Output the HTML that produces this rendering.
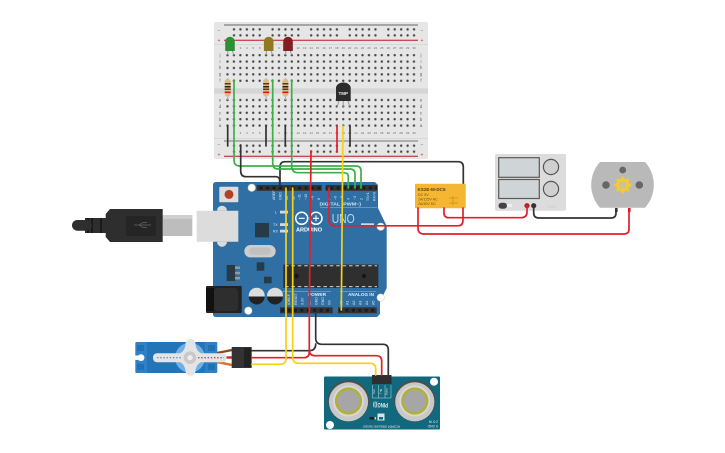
<!DOCTYPE html>
<html><head><meta charset="utf-8"><style>
html,body{margin:0;padding:0;background:#fff}
svg{display:block;font-family:"Liberation Sans",sans-serif}
.w{fill:none;stroke-width:1.7;stroke-linecap:round;stroke-linejoin:round}
.r{stroke:#e0202b}.y{stroke:#f4d215}.g{stroke:#3fae49}.k{stroke:#333}
.n text{font-size:3px;fill:#666;text-anchor:middle}
</style></head><body>
<svg width="725" height="453" viewBox="0 0 725 453" xmlns="http://www.w3.org/2000/svg">
<defs>
<pattern id="h" patternUnits="userSpaceOnUse" x="224.285" y="52" width="6.43" height="6.4"><circle cx="3.215" cy="3.2" r="1.2" fill="#444"/></pattern>
<pattern id="rail" patternUnits="userSpaceOnUse" x="230.8" y="26" width="38.58" height="12"><g fill="#444"><circle cx="3.2" cy="3" r="1.2"/><circle cx="9.63" cy="3" r="1.2"/><circle cx="16.06" cy="3" r="1.2"/><circle cx="22.49" cy="3" r="1.2"/><circle cx="28.92" cy="3" r="1.2"/><circle cx="3.2" cy="9" r="1.2"/><circle cx="9.63" cy="9" r="1.2"/><circle cx="16.06" cy="9" r="1.2"/><circle cx="22.49" cy="9" r="1.2"/><circle cx="28.92" cy="9" r="1.2"/></g></pattern>
<pattern id="pin" patternUnits="userSpaceOnUse" x="0.7" y="185" width="6.43" height="6"><rect x="1.7" y="1.5" width="3" height="3" fill="#1c1c1c"/></pattern>
<g id="nums" class="n"><text x="227.5">1</text><text x="233.9">2</text><text x="240.4">3</text><text x="246.8">4</text><text x="253.2">5</text><text x="259.7">6</text><text x="266.1">7</text><text x="272.5">8</text><text x="279">9</text><text x="285.4">10</text><text x="291.8">11</text><text x="298.2">12</text><text x="304.7">13</text><text x="311.1">14</text><text x="317.5">15</text><text x="324">16</text><text x="330.4">17</text><text x="336.8">18</text><text x="343.2">19</text><text x="349.7">20</text><text x="356.1">21</text><text x="362.5">22</text><text x="369">23</text><text x="375.4">24</text><text x="381.8">25</text><text x="388.3">26</text><text x="394.7">27</text><text x="401.1">28</text><text x="407.6">29</text><text x="414">30</text></g>
</defs>

<!-- breadboard -->
<rect x="214" y="22" width="214" height="137" rx="2" fill="#e6e6e6"/>
<rect x="214" y="88.3" width="214" height="5.4" fill="#d6d6d6"/>
<rect x="214" y="44" width="214" height="1" fill="#d8d8d8"/>
<rect x="214" y="138" width="214" height="1" fill="#d8d8d8"/>
<rect x="224" y="24.5" width="194" height="1" fill="#666"/>
<rect x="224" y="39.7" width="194" height="1.2" fill="#c23c40"/>
<rect x="224" y="140.4" width="194" height="1.2" fill="#888"/>
<rect x="224" y="155.7" width="194" height="1.2" fill="#c23c40"/>
<rect x="230.8" y="26" width="186" height="12" fill="url(#rail)" transform="translate(0,0.4)"/>
<rect x="230.8" y="26" width="186" height="12" fill="url(#rail)" transform="translate(0,116.7)"/>
<rect x="224.3" y="52" width="192.9" height="32" fill="url(#h)"/>
<rect x="224.3" y="96.8" width="192.9" height="32" fill="url(#h)"/>
<use href="#nums" y="49"/>
<use href="#nums" y="134"/>
<g font-size="5" fill="#666" text-anchor="middle">
<text x="219" y="32">−</text><text x="422" y="32">−</text><text x="219" y="42" fill="#c33">+</text><text x="422" y="42" fill="#c33">+</text>
<text x="219" y="146">−</text><text x="422" y="146">−</text><text x="219" y="156.5" fill="#c33">+</text><text x="422" y="156.5" fill="#c33">+</text>
<g font-size="4.5"><text x="220" y="56.5">j</text><text x="220" y="62.8">i</text><text x="220" y="69">h</text><text x="220" y="75.5">g</text><text x="220" y="82">f</text>
<text x="220" y="101.5">e</text><text x="220" y="108">d</text><text x="220" y="114.5">c</text><text x="220" y="120.8">b</text><text x="220" y="127.2">a</text>
<text x="421" y="56.5">j</text><text x="421" y="62.8">i</text><text x="421" y="69">h</text><text x="421" y="75.5">g</text><text x="421" y="82">f</text>
<text x="421" y="101.5">e</text><text x="421" y="108">d</text><text x="421" y="114.5">c</text><text x="421" y="120.8">b</text><text x="421" y="127.2">a</text></g>
</g>

<!-- short jumpers -->
<g class="w k"><path d="M227.7 126V146M266 126V146M285.3 126V146M350 126V146"/></g>
<path class="w r" d="M337 126V152"/>

<!-- LEDs -->
<g stroke="#999" stroke-width="1" fill="none"><path d="M228 50L227.5 55M232 50L233.9 55M266.5 50L266.1 55M271 50L272.5 55M286 50L285.4 55M290 50L291.8 55"/></g>
<path d="M225.2 51V41.5a4.8 4.8 0 0 1 9.6 0V51z" fill="#2a9235"/>
<path d="M263.9 51V41.5a4.8 4.8 0 0 1 9.6 0V51z" fill="#8f7a20"/>
<path d="M283.2 51V41.5a4.8 4.8 0 0 1 9.6 0V51z" fill="#831f22"/>

<!-- resistors -->
<g id="res"><path d="M227.7 78V100" stroke="#aaa" stroke-width="1"/><rect x="224.7" y="79" width="6" height="17.5" rx="2.5" fill="#dcbc84"/><rect x="224.7" y="83" width="6" height="1.5" fill="#5a3a1c"/><rect x="224.7" y="86" width="6" height="1.5" fill="#222"/><rect x="224.7" y="88.5" width="6" height="1.5" fill="#5a3a1c"/><rect x="224.7" y="91.5" width="6" height="1.6" fill="#e8120f"/></g>
<use href="#res" x="38.4"/>
<use href="#res" x="57.7"/>

<!-- TMP -->
<g stroke="#999" stroke-width="1" fill="none"><path d="M339 101L337 107M343.2 101V107M348 101L350 107"/></g>
<path d="M336 101V88a7.3 5.5 0 0 1 14.7 0V101z" fill="#2c2c2c"/>
<text x="343.3" y="95" font-size="4.5" font-weight="bold" fill="#eee" text-anchor="middle">TMP</text>

<!-- Arduino -->
<path d="M216 182H375L378 185V208L386.7 226V288L380 302V314L377 317H216Q213 317 213 314V185Q213 182 216 182Z" fill="#2f6fa3"/>
<g fill="#fff" stroke="#e2d6a8" stroke-width="0.6"><circle cx="251.7" cy="187.7" r="3.7"/><circle cx="380.7" cy="226.7" r="3.7"/><circle cx="380.7" cy="297.6" r="3.7"/><circle cx="248.3" cy="310.7" r="3.7"/></g>
<rect x="219.3" y="186.7" width="19" height="15.6" rx="1" fill="#ddd"/><circle cx="229" cy="194.4" r="4.5" fill="#b5402a"/>
<rect x="256.7" y="185" width="65" height="5.8" fill="#333"/><rect x="256.7" y="185" width="65" height="5.8" fill="url(#pin)"/>
<rect x="325.7" y="185" width="51.3" height="5.8" fill="#333"/><rect x="325.7" y="185" width="51.3" height="5.8" fill="url(#pin)"/>
<rect x="280" y="307.3" width="52.7" height="6" fill="#333"/><rect x="338" y="307.3" width="38.7" height="6" fill="#333"/>
<path d="M281 310.3H332M339 310.3H376" stroke="#1c1c1c" stroke-width="3" stroke-dasharray="3 3.43"/>
<rect x="283.3" y="264.5" width="95" height="23.5" fill="#2f2f2f"/>
<path d="M285 265.8H377M285 286.7H377" stroke="#eee" stroke-width="0.8" stroke-dasharray="3.6 2.8"/>
<circle cx="296.5" cy="276" r="2.2" fill="#161616"/><circle cx="364" cy="276" r="2.2" fill="#161616"/>
<rect x="244.3" y="245" width="31.4" height="12.4" rx="6.2" fill="#cdcdcd"/><rect x="249" y="247.5" width="22" height="7.4" rx="3.7" fill="#c0c0c0"/>
<rect x="255" y="223" width="14" height="14.3" fill="#263a48"/>
<rect x="256.7" y="262.3" width="7.6" height="8.4" fill="#263a48"/>
<rect x="226.7" y="265" width="8.5" height="16" fill="#263a48"/><rect x="235" y="266.5" width="5" height="2.4" fill="#999"/><rect x="235" y="271.8" width="5" height="2.4" fill="#999"/><rect x="235" y="277" width="5" height="2.4" fill="#999"/>
<rect x="264" y="276.7" width="7.7" height="6.6" fill="#263a48"/>
<g fill="#d8d8d8"><rect x="280" y="210.7" width="8" height="2.8"/><rect x="280" y="223.2" width="8" height="2.8"/><rect x="280" y="229.7" width="8" height="2.8"/><rect x="361" y="223.3" width="13" height="2"/></g>
<path d="M320 207.5H377M282 291.5H331M340 291.5H376" stroke="#9fbdd6" stroke-width="0.5"/>
<g><circle cx="256.7" cy="295.7" r="8" fill="#ddd"/><path d="M248.7 296.5a8 8 0 0 0 16 0z" fill="#222"/><circle cx="275" cy="295.7" r="8" fill="#ddd"/><path d="M267 296.5a8 8 0 0 0 16 0z" fill="#222"/></g>
<rect x="206" y="286" width="35.7" height="27" rx="1" fill="#222"/><rect x="206" y="288" width="8" height="23" fill="#111"/><rect x="214" y="288" width="24" height="23" rx="3" fill="#2e2e2e"/>
<!-- USB port -->
<path d="M196.7 210.7H238.3V241.7H196.7z" fill="#dcdcdc"/><path d="M217 210.7a5 5 0 0 1 10 0zM217 241.7a5 5 0 0 0 10 0z" fill="#dcdcdc"/>
<!-- logo -->
<g fill="none" stroke="#fff" stroke-width="1.5"><circle cx="301.7" cy="218.3" r="6"/><circle cx="316" cy="218.3" r="6"/></g>
<path d="M298.7 218.3h6M313 218.3h6M316 215.3v6" stroke="#fff" stroke-width="1.1"/>
<text x="309" y="231.5" font-size="5.6" font-weight="bold" fill="#fff" text-anchor="middle">ARDUINO</text>
<text x="331.7" y="223" font-size="13" fill="#c2d6e6" textLength="23" lengthAdjust="spacingAndGlyphs">UNO</text>
<text x="319.5" y="205.6" font-size="4.4" font-weight="bold" fill="#d5e3ee" textLength="41.5" lengthAdjust="spacingAndGlyphs">DIGITAL (PWM~)</text>
<text x="317" y="295.8" font-size="4.8" font-weight="bold" fill="#e5eef5" text-anchor="middle">POWER</text>
<text x="361" y="295.8" font-size="4.6" font-weight="bold" fill="#e5eef5" text-anchor="middle">ANALOG IN</text>
<g font-size="3.6" fill="#dfe9f1">
<text transform="translate(275,200) rotate(-90)">AREF</text><text transform="translate(281.5,200) rotate(-90)">GND</text>
<text transform="translate(288,200) rotate(-90)">13</text><text transform="translate(294.3,200) rotate(-90)">12</text><text transform="translate(300.7,200) rotate(-90)">~11</text><text transform="translate(307.2,200) rotate(-90)">~10</text><text transform="translate(313.6,200) rotate(-90)">~9</text><text transform="translate(320,200) rotate(-90)">8</text>
<text transform="translate(330.3,200) rotate(-90)">7</text><text transform="translate(336.7,200) rotate(-90)">~6</text><text transform="translate(343,200) rotate(-90)">~5</text><text transform="translate(349.6,200) rotate(-90)">4</text><text transform="translate(356,200) rotate(-90)">~3</text><text transform="translate(362.4,200) rotate(-90)">2</text><text transform="translate(368.8,201) rotate(-90)">TX&gt;1</text><text transform="translate(375.3,201) rotate(-90)">RX&lt;0</text>
<text transform="translate(290,305) rotate(-90)">IOREF</text><text transform="translate(297,305) rotate(-90)">RESET</text><text transform="translate(303.5,305) rotate(-90)">3.3V</text><text transform="translate(311,305) rotate(-90)">5V</text><text transform="translate(317.5,305) rotate(-90)">GND</text><text transform="translate(323.9,305) rotate(-90)">GND</text><text transform="translate(330.3,305) rotate(-90)">Vin</text>
<text transform="translate(342.3,305) rotate(-90)">A0</text><text transform="translate(348.7,305) rotate(-90)">A1</text><text transform="translate(355.2,305) rotate(-90)">A2</text><text transform="translate(361.6,305) rotate(-90)">A3</text><text transform="translate(368,305) rotate(-90)">A4</text><text transform="translate(374.4,305) rotate(-90)">A5</text>
<text x="275" y="213.5">L</text><text x="273" y="226">TX</text><text x="273" y="232.5">RX</text>
</g>

<!-- USB cable -->
<rect x="162.7" y="215" width="29.6" height="21" fill="#bdbdbd"/><rect x="162.7" y="215" width="29.6" height="4" fill="#cfcfcf"/>
<path d="M110 209H162.7V242H110L105.7 237V214Z" fill="#2e2e2e"/>
<rect x="126" y="216" width="30" height="20" fill="#252525"/>
<path d="M134 225h17M139 225l4-2.5h4M139 225l4 2.5h4" stroke="#555" stroke-width="1" fill="none"/>
<rect x="85" y="218" width="21" height="15" fill="#2e2e2e"/><rect x="87" y="218" width="2" height="15" fill="#1a1a1a"/><rect x="91" y="218" width="2" height="15" fill="#1a1a1a"/><rect x="100" y="218" width="2" height="15" fill="#1a1a1a"/>
<rect x="72" y="220" width="20" height="10.7" rx="5.3" fill="#2e2e2e"/>

<!-- relay -->
<path class="w k" d="M280 186V167Q280 161.7 285 161.7H458Q463.3 161.7 463.3 167V184"/>
<rect x="415" y="183.7" width="50.7" height="24.6" rx="0.5" fill="#f5b731"/>
<text x="417.5" y="191" font-size="4.6" font-weight="bold" fill="#5a4310" textLength="28" lengthAdjust="spacingAndGlyphs">KS2E-M-DC5</text>
<g font-size="3.6" fill="#6a5014"><text x="418" y="196">DC 5V</text><text x="418" y="200.5">1A/125V AC</text><text x="418" y="205">2A/30V DC</text></g>
<path d="M449 198h9M449 203h9M453 196v9" stroke="#c98f1c" stroke-width="0.8" fill="none"/>

<!-- power supply -->
<rect x="495" y="154" width="71" height="56.7" rx="1.5" fill="#dcdcdc"/>
<rect x="498.7" y="157.7" width="40.6" height="19.6" fill="#cfd5d6" stroke="#5a5a5a" stroke-width="1.2"/>
<rect x="498.7" y="179.5" width="40.6" height="19" fill="#cfd5d6" stroke="#5a5a5a" stroke-width="1.2"/>
<circle cx="551" cy="167" r="7.6" fill="#d0d0d0" stroke="#555" stroke-width="1.2"/>
<circle cx="551" cy="189" r="7.6" fill="#d0d0d0" stroke="#555" stroke-width="1.2"/>
<rect x="498.5" y="202.7" width="8.5" height="6" rx="3" fill="#444"/><rect x="507" y="204" width="5" height="3" fill="#eee"/>
<circle cx="527" cy="205.7" r="2.6" fill="#b02028"/><circle cx="533.7" cy="205.7" r="2.6" fill="#333"/>
<text x="547" y="208" font-size="4" fill="#c8c8c8">1337</text>

<!-- motor -->
<path d="M600 162H645A34 34 0 0 1 645 207.7H600A34 34 0 0 1 600 162Z" fill="#b9b9b9"/>
<circle cx="622.7" cy="170" r="3.4" fill="#666"/><circle cx="606" cy="185" r="3.8" fill="#666"/><circle cx="639.3" cy="185" r="3.8" fill="#666"/>
<circle cx="622.7" cy="185" r="6.8" fill="#f0cb36"/>
<path d="M622.7 176.5v17M614.2 185h17M616.7 179l12 12M628.7 179l-12 12" stroke="#f0cb36" stroke-width="2.4"/>
<circle cx="622.7" cy="185" r="3.6" fill="#c9c29a"/>
<rect x="615" y="208" width="2.6" height="4" fill="#333"/><rect x="628" y="208" width="2.6" height="4" fill="#c3232c"/>

<!-- servo -->
<rect x="135.3" y="342" width="82" height="31" rx="1" fill="#2f80c6"/>
<rect x="147" y="342" width="58" height="31" rx="2" fill="#2474b8"/>
<circle cx="190" cy="357.7" r="15" fill="#72b0e4"/>
<rect x="137" y="345" width="7" height="6" fill="#2170b2"/><rect x="137" y="364" width="7" height="6" fill="#2170b2"/><rect x="208" y="345" width="7" height="6" fill="#2170b2"/><rect x="208" y="364" width="7" height="6" fill="#2170b2"/>
<circle cx="141" cy="357.7" r="3.4" fill="#fff"/><rect x="135" y="355.5" width="5" height="4.4" fill="#fff"/>
<path d="M217 353L232 350M217 362L232 365" stroke="#8a4a1e" stroke-width="2.4"/><path d="M217 357.5H232" stroke="#c62828" stroke-width="2.4"/><path d="M217 362L232 365" stroke="#d9772b" stroke-width="2.4"/>
<path d="M157 353.2H180Q184 352 185.5 345V343.5Q186 339 190.5 339Q195 339 195.5 343.5V345Q197 352 201 353.2H222Q226.7 353.5 226.7 357.7Q226.7 362 222 362.2H201Q197 363.5 195.5 370V371Q195 375.7 190.5 375.7Q186 375.7 185.5 371V370Q184 363.5 180 362.2H157Q153 362 153 357.7Q153 353.5 157 353.2Z" fill="#e4e4e4"/>
<circle cx="190" cy="357.7" r="6.3" fill="#c9c9c9"/><circle cx="190" cy="357.7" r="2.6" fill="#eee"/>
<path d="M157 357.7H182" stroke="#6f93ad" stroke-width="1.3" stroke-dasharray="1.4 1.8"/>
<path d="M198 357.7H224" stroke="#8f5a6a" stroke-width="1.3" stroke-dasharray="1.4 1.8"/>
<rect x="231.7" y="347" width="20" height="21" fill="#333"/><rect x="244" y="348" width="7" height="19" fill="#222"/>

<!-- ultrasonic -->
<rect x="324" y="376.5" width="116" height="53" rx="1" fill="#12687c"/>
<g id="tx"><circle cx="348.5" cy="400.8" r="20.7" fill="#4d4d4d"/><circle cx="348.5" cy="401.8" r="19.6" fill="#c8c8c8"/><circle cx="348.5" cy="401" r="15.5" fill="#d8d8d8"/><circle cx="348.5" cy="401" r="13.6" fill="#b0b03a"/><circle cx="348.5" cy="401" r="11" fill="#a6a6a6"/></g>
<use href="#tx" x="66.3"/>
<circle cx="434" cy="381.7" r="4" fill="#fff"/><circle cx="330" cy="425" r="4" fill="#fff"/>
<rect x="372" y="375" width="19.5" height="9" fill="#2e2e2e"/>
<path d="M372.5 385V398H391V385M378.7 385V398M385 385V398" fill="none" stroke="#bfe0e6" stroke-width="0.5"/>
<g font-size="3" fill="#e8f0f2"><text transform="translate(375,394) rotate(-90)">Vcc</text><text transform="translate(381.3,394) rotate(-90)">Trig</text><text transform="translate(387.7,395) rotate(-90)">Echo</text></g>
<text transform="translate(388,403) rotate(180)" font-size="6" font-weight="bold" fill="#e8f0f2" textLength="15" lengthAdjust="spacingAndGlyphs">PING)))</text>
<rect x="377.5" y="413.5" width="7" height="7" fill="#d8e4e6"/><rect x="379" y="417" width="4" height="2.5" fill="#12687c"/>
<rect x="369.5" y="417" width="5" height="2.5" fill="#222"/><rect x="374.5" y="417" width="1.5" height="2.5" fill="#ccc"/>
<text transform="translate(400,425.5) rotate(180)" font-size="3.4" fill="#d8e4e6" textLength="37" lengthAdjust="spacingAndGlyphs">HCSR04 Ultrasonic Sensor</text>
<text transform="translate(438,420.5) rotate(180)" font-size="3.4" fill="#d8e4e6">2-5 IN</text>
<text transform="translate(438,425) rotate(180)" font-size="3.4" fill="#d8e4e6">5 GND</text>

<!-- wires -->
<g class="w g">
<path d="M234 80V160Q234 166 240 166H356Q361 166 361 171V188"/>
<path d="M272.7 80V163Q272.7 169 278 169H350Q355 169 355 174V188"/>
<path d="M291.7 80V166Q291.7 172.7 298 172.7H344Q348.3 172.7 348.3 177V188"/>
</g>
<g class="w k">
<path d="M240.7 145V171Q240.7 176.7 246 176.7H276Q279.7 176.7 279.7 181V186"/>
<path d="M315.7 313V338Q315.7 344.3 322 344.3H383Q388.3 344.3 388.3 350V375"/>
<path d="M251.7 350.7H309Q315.7 350.7 315.7 344"/>
</g>
<g class="w r">
<path d="M311 151L309.3 313V352Q309.3 357.7 304 357.7H251.7"/>
<path d="M309.3 350Q309.3 355.7 315 355.7H376Q381.7 355.7 381.7 361V375"/>
<path d="M329 188V220Q329 225.8 335 225.8H458Q463 225.8 463 220V208"/>
<path d="M418 208V228Q418 234 424 234H624Q629 234 629 229V210"/>
<path d="M444 208V213Q444 217.7 449 217.7H521Q527 217.7 527 212V206"/>
</g>
<g class="w k"><path d="M533.7 206V213Q533.7 218 539 218H611Q616 218 616 213V210"/></g>
<g class="w y">
<path d="M286 188V358Q286 364.3 280 364.3H251.7"/>
<path d="M292.7 188V357Q292.7 363.3 299 363.3H370Q375.7 363.3 375.7 369V375"/>
<path d="M343 126L341.3 310"/>
</g>
</svg>
</body></html>
